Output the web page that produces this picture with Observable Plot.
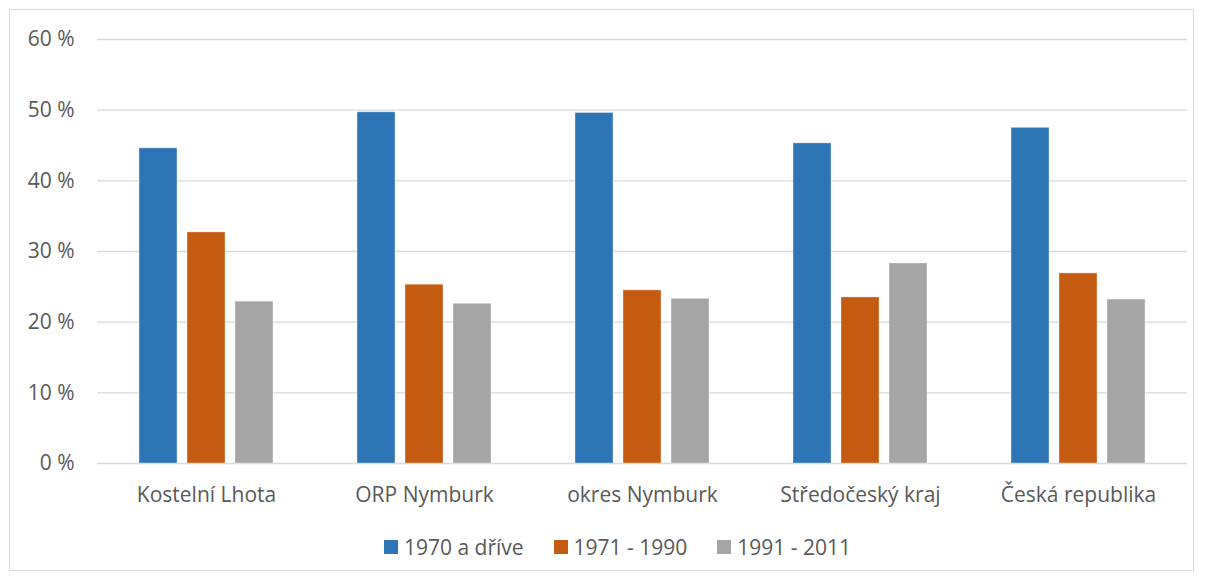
<!DOCTYPE html>
<html>
<head>
<meta charset="utf-8">
<script src="https://cdn.jsdelivr.net/npm/d3@7"></script>
<script src="https://cdn.jsdelivr.net/npm/@observablehq/plot@0.6"></script>
<style>
  html, body { margin: 0; padding: 0; background: #fff; }
  #wrap { position: relative; width: 1205px; height: 580px; font-family: "Open Sans", "Noto Sans", sans-serif; }
  #frame { position: absolute; left: 9px; top: 9px; width: 1185px; height: 562px; border: 1px solid #d9d9d9; box-sizing: border-box; pointer-events: none; }
  #chart { position: absolute; left: 0; top: 0; }
  #legend { position: absolute; left: 15px; top: 532px; width: 1205px; display: flex; justify-content: center; gap: 30px; color: #595959; font-size: 21px; line-height: 30px; }
  .item { display: flex; align-items: center; gap: 6px; }
  .sw { width: 14px; height: 14px; display: inline-block; }
</style>
</head>
<body>
<div id="wrap">
  <div id="frame"></div>
  <div id="chart"></div>
  <div id="legend"></div>
</div>
<script>
const categories = ["Kostelní Lhota", "ORP Nymburk", "okres Nymburk", "Středočeský kraj", "Česká republika"];
const series = ["1970 a dříve", "1971 - 1990", "1991 - 2011"];
const values1970 = [44.6, 49.7, 49.6, 45.3, 47.5];
const values1971 = [32.7, 25.3, 24.5, 23.5, 26.9];
const values1991 = [22.9, 22.6, 23.3, 28.3, 23.2];
const colors = ["#2E75B6", "#C55A11", "#A5A5A5"];
const yTicks = [0, 10, 20, 30, 40, 50, 60];

const seriesValues = [values1970, values1971, values1991];
const data = [];
categories.forEach((c, i) => {
  series.forEach((s, j) => data.push({category: c, series: s, value: seriesValues[j][i]}));
});

const chart = Plot.plot({
  width: 1205,
  height: 520,
  marginLeft: 96,
  marginRight: 17,
  marginTop: 39,
  marginBottom: 57,
  style: {fontFamily: '"Open Sans", "Noto Sans", sans-serif', fontSize: "21px", color: "#595959", background: "transparent"},
  fx: {domain: categories, padding: 0, label: null, axis: "bottom", tickSize: 0, tickPadding: 24},
  x: {domain: series, paddingInner: 0.2, paddingOuter: 0.85, axis: null},
  y: {domain: [0, 60], ticks: yTicks, tickFormat: d => `${d} %`, tickSize: 0, tickPadding: 23, label: null},
  color: {domain: series, range: colors},
  marks: [
    Plot.gridY(yTicks, {stroke: "#d9d9d9", strokeOpacity: 1, strokeWidth: 1.3}),
    Plot.barY(data, {fx: "category", x: "series", y: "value", fill: "series", stroke: "#ffffff", strokeOpacity: 0.35, strokeWidth: 1})
  ]
});
document.getElementById("chart").appendChild(chart);

const legend = document.getElementById("legend");
series.forEach((s, i) => {
  const item = document.createElement("span");
  item.className = "item";
  const sw = document.createElement("span");
  sw.className = "sw";
  sw.style.background = colors[i];
  const t = document.createElement("span");
  t.textContent = s;
  item.appendChild(sw);
  item.appendChild(t);
  legend.appendChild(item);
});
</script>
</body>
</html>
